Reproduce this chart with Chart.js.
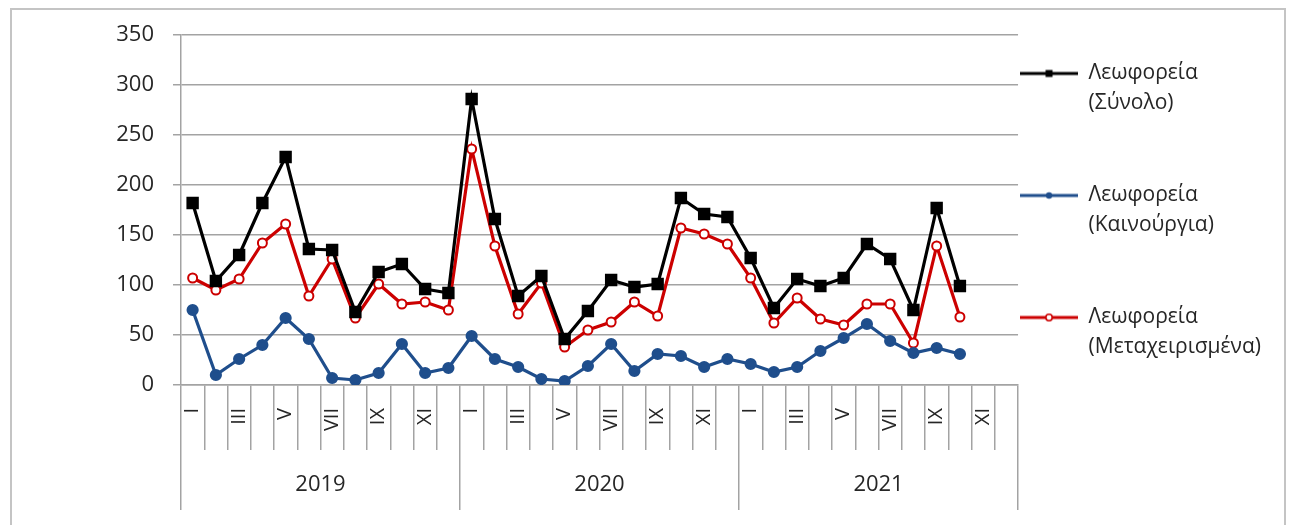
<!DOCTYPE html>
<html>
<head>
<meta charset="utf-8">
<script src="https://cdn.jsdelivr.net/npm/chart.js@4"></script>
<style>
  html, body { margin: 0; padding: 0; background: #ffffff; }
  #wrap { width: 1291px; height: 525px; position: relative; }
</style>
</head>
<body>
<div id="wrap"><canvas id="chart" width="1291" height="525"></canvas></div>
<script>
// ---- data ----
const years = ['2019', '2020', '2021'];
const months = ['I', 'II', 'III', 'IV', 'V', 'VI', 'VII', 'VIII', 'IX', 'X', 'XI', 'XII'];
const categories = years.flatMap(() => months);

const totalBuses = [182, 104, 130, 182, 228, 136, 135, 73, 113, 121, 96, 92,
                    286, 166, 89, 109, 46, 74, 105, 98, 101, 187, 171, 168,
                    127, 77, 106, 99, 107, 141, 126, 75, 177, 99];
const newBuses   = [75, 10, 26, 40, 67, 46, 7, 5, 12, 41, 12, 17,
                    49, 26, 18, 6, 4, 19, 41, 14, 31, 29, 18, 26,
                    21, 13, 18, 34, 47, 61, 44, 32, 37, 31];
const usedBuses  = [107, 95, 106, 142, 161, 89, 126, 67, 101, 81, 83, 75,
                    236, 139, 71, 102, 38, 55, 63, 83, 69, 157, 151, 141,
                    107, 62, 87, 66, 60, 81, 81, 42, 139, 68];

const nameTotal = ['Λεωφορεία', '(Σύνολο)'];
const nameNew   = ['Λεωφορεία', '(Καινούργια)'];
const nameUsed  = ['Λεωφορεία', '(Μεταχειρισμένα)'];

const yMin = 0, yMax = 350, yStep = 50;

// ---- styles ----
const BLACK = '#000000';
const BLUE = '#1f4e8c';
const RED = '#cc0000';
const GRID = '#a3a3a3';
const TEXT = '#262626';
const FONT = "'Open Sans', 'Liberation Sans', sans-serif";
const LEGEND_SIZE = 21;
const ICON_W = 58;
const LEGEND_PAD = 2;
const PLOT_RIGHT = 1018;

function legendIcon(color, kind) {
  const c = document.createElement('canvas');
  c.width = ICON_W; c.height = 14;
  const g = c.getContext('2d');
  g.strokeStyle = color; g.lineWidth = 3;
  g.beginPath(); g.moveTo(0, 7); g.lineTo(ICON_W, 7); g.stroke();
  if (kind === 'rect') {
    g.fillStyle = color; g.fillRect(25.5, 3.5, 7, 7);
  } else if (kind === 'dot') {
    g.fillStyle = color; g.beginPath(); g.arc(29, 7, 3.2, 0, Math.PI * 2); g.fill();
  } else {
    g.fillStyle = '#ffffff'; g.lineWidth = 1.6;
    g.beginPath(); g.arc(29, 7, 3.2, 0, Math.PI * 2); g.fill(); g.stroke();
  }
  return c;
}
const icons = [legendIcon(BLACK, 'rect'), legendIcon(BLUE, 'dot'), legendIcon(RED, 'ring')];

// legend width, so that the plot area ends where the reference's does
const mctx = document.createElement('canvas').getContext('2d');
mctx.font = LEGEND_SIZE + 'px ' + FONT;
const longest = Math.max(...[nameTotal, nameNew, nameUsed].flat().map(t => mctx.measureText(t).width));
const legendWidth = LEGEND_PAD + ICON_W + LEGEND_SIZE / 2 + longest + 10;
const padRight = Math.max(0, Math.round(1291 - PLOT_RIGHT - legendWidth));

const framePlugin = {
  id: 'frame',
  beforeDraw(chart) {
    const ctx = chart.ctx;
    ctx.save();
    ctx.fillStyle = '#ffffff';
    ctx.fillRect(0, 0, chart.width, chart.height);
    ctx.strokeStyle = '#c4c4c4';
    ctx.lineWidth = 2;
    ctx.strokeRect(11, 9, 1274, 560);
    ctx.restore();
  }
};

new Chart(document.getElementById('chart'), {
  type: 'line',
  data: {
    labels: categories,
    datasets: [
      {
        label: nameTotal.join(' '),
        data: totalBuses,
        borderColor: BLACK, backgroundColor: BLACK,
        borderWidth: 3.2, pointStyle: 'rect', pointRadius: 6.5,
        pointBackgroundColor: BLACK, pointBorderColor: BLACK, tension: 0
      },
      {
        label: nameNew.join(' '),
        data: newBuses,
        borderColor: BLUE, backgroundColor: BLUE,
        borderWidth: 3.2, pointStyle: 'circle', pointRadius: 4.5,
        pointBackgroundColor: BLUE, pointBorderColor: BLUE, tension: 0
      },
      {
        label: nameUsed.join(' '),
        data: usedBuses,
        borderColor: RED, backgroundColor: '#ffffff',
        borderWidth: 3.2, pointStyle: 'circle', pointRadius: 4.5, pointBorderWidth: 2,
        pointBackgroundColor: '#ffffff', pointBorderColor: RED, tension: 0
      }
    ]
  },
  options: {
    responsive: false,
    animation: false,
    devicePixelRatio: 1,
    layout: { padding: { top: 35, left: 0, right: padRight, bottom: 15 } },
    plugins: {
      tooltip: { enabled: false },
      legend: {
        position: 'right',
        align: 'start',
        title: { display: true, text: '', font: { size: 10, lineHeight: 1 }, padding: { top: 16, bottom: 0 } },
        labels: {
          usePointStyle: true,
          pointStyleWidth: ICON_W,
          padding: LEGEND_PAD,
          color: TEXT,
          font: { family: FONT, size: LEGEND_SIZE, lineHeight: 30 / LEGEND_SIZE },
          generateLabels(chart) {
            const names = [nameTotal, nameNew, nameUsed];
            return chart.data.datasets.map((ds, i) => ({
              text: [names[i][0], names[i][1], '', ''],
              pointStyle: icons[i],
              datasetIndex: i,
              hidden: false,
              fontColor: TEXT,
              fillStyle: 'transparent',
              strokeStyle: 'transparent',
              lineWidth: 0
            }));
          }
        }
      }
    },
    scales: {
      y: {
        min: yMin, max: yMax,
        ticks: { stepSize: yStep, color: TEXT, padding: 19, font: { family: FONT, size: 22 } },
        grid: { color: GRID, lineWidth: 1.5, tickLength: 8, drawTicks: true },
        border: { display: true, color: GRID, width: 1.5 },
        afterFit(scale) { scale.width = 181; }
      },
      x: {
        type: 'category',
        position: 'bottom',
        offset: true,
        grid: { display: true, offset: true, drawOnChartArea: false, drawTicks: true, tickLength: 65, color: GRID, lineWidth: 1.5 },
        border: { display: true, color: GRID, width: 1.5 },
        ticks: {
          autoSkip: false, minRotation: 90, maxRotation: 90, padding: -42,
          color: TEXT, font: { family: FONT, size: 20 },
          callback(value, index) { return index % 2 === 0 ? months[index % 12] : ''; }
        },
        afterFit(scale) { scale.height = 65; }
      },
      x2: {
        type: 'category',
        position: 'bottom',
        labels: years,
        offset: true,
        grid: { display: true, offset: true, drawOnChartArea: false, drawTicks: true, tickLength: 60, color: GRID, lineWidth: 1.5 },
        border: { display: false },
        ticks: { autoSkip: false, maxRotation: 0, padding: -38, color: TEXT, font: { family: FONT, size: 22 } },
        afterFit(scale) { scale.height = 60; }
      }
    }
  },
  plugins: [framePlugin]
});
</script>
</body>
</html>
